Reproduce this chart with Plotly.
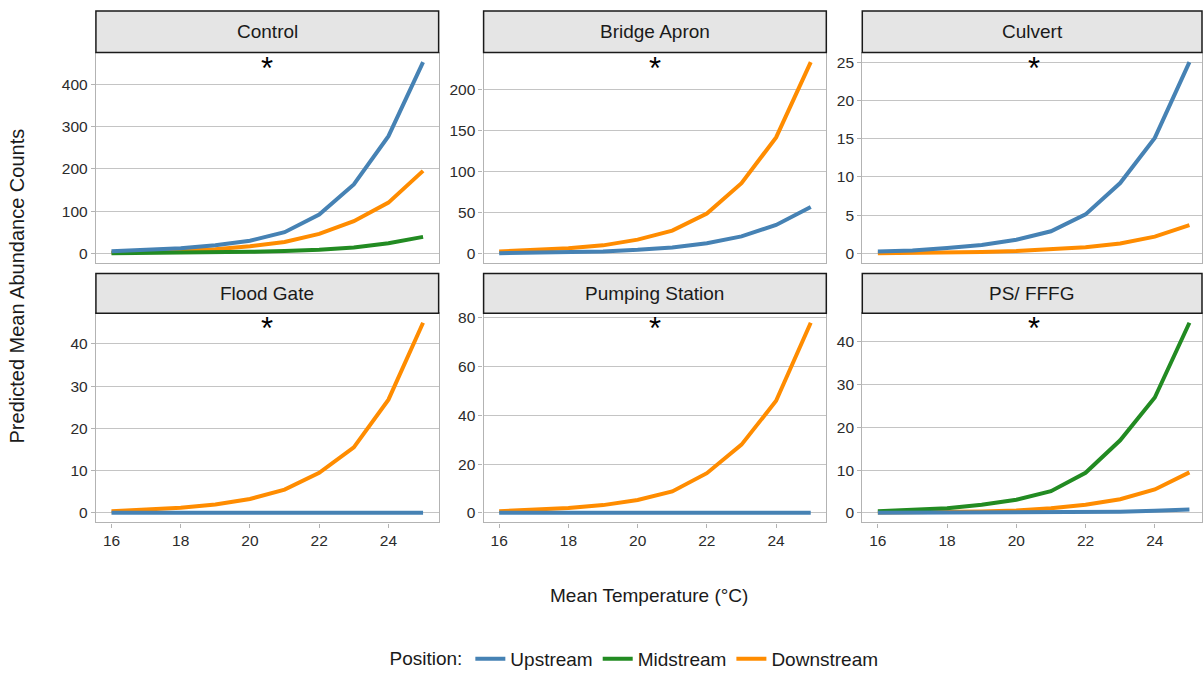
import plotly.graph_objects as go

# Mean temperature (°C) at which predictions were made
temps = [16, 17, 18, 19, 20, 21, 22, 23, 24, 25]

# Predicted mean abundance counts by structure type and position
control_up = [5, 8, 12, 19, 30, 50, 92, 163, 277, 452]
control_mid = [0.6, 1, 1.6, 2.6, 3.6, 5.5, 8.5, 14, 24, 39]
control_down = [2, 3.5, 6, 10, 17, 27, 46, 76, 120, 195]

bridge_up = [0.5, 1, 1.5, 2.5, 4.5, 7.5, 12.5, 21, 35, 57]
bridge_down = [2.5, 4, 6.5, 10, 17, 28, 49, 86, 142, 234]

culvert_up = [0.25, 0.4, 0.7, 1.1, 1.8, 2.9, 5.1, 9.2, 15.1, 25]
culvert_down = [0.04, 0.07, 0.12, 0.2, 0.33, 0.55, 0.8, 1.3, 2.2, 3.7]

flood_up = [0.01, 0.01, 0.01, 0.01, 0.01, 0.01, 0.01, 0.01, 0.01, 0.01]
flood_down = [0.4, 0.7, 1.2, 2.0, 3.3, 5.5, 9.5, 15.5, 26.8, 45]

pump_up = [0.02, 0.02, 0.02, 0.02, 0.02, 0.02, 0.02, 0.02, 0.02, 0.02]
pump_down = [0.7, 1.2, 2.0, 3.2, 5.3, 8.8, 16.3, 28, 46, 78]

psfffg_up = [0.02, 0.03, 0.04, 0.06, 0.09, 0.13, 0.2, 0.3, 0.5, 0.8]
psfffg_mid = [0.4, 0.7, 1.1, 1.9, 3.1, 5.1, 9.4, 17, 27, 44.5]
psfffg_down = [0.08, 0.12, 0.2, 0.35, 0.6, 1.1, 1.9, 3.2, 5.5, 9.5]

panel_titles = ["Control", "Bridge Apron", "Culvert",
                "Flood Gate", "Pumping Station", "PS/ FFFG"]
panel_series = [
    {"Upstream": control_up, "Midstream": control_mid, "Downstream": control_down},
    {"Upstream": bridge_up, "Downstream": bridge_down},
    {"Upstream": culvert_up, "Downstream": culvert_down},
    {"Upstream": flood_up, "Downstream": flood_down},
    {"Upstream": pump_up, "Downstream": pump_down},
    {"Upstream": psfffg_up, "Midstream": psfffg_mid, "Downstream": psfffg_down},
]
y_dticks = [100, 50, 5, 10, 20, 10]
x_ticks = [16, 18, 20, 22, 24]

colors = {"Upstream": "#4682B4", "Midstream": "#228B22", "Downstream": "#FF8C00"}
legend_rank = {"Upstream": 1, "Midstream": 2, "Downstream": 3}
draw_order = ["Downstream", "Midstream", "Upstream"]

W, H = 1203, 678
# panel pixel boxes: (left, right) for columns, (top, bottom) for rows
col_px = [(96, 439), (484, 827), (863, 1203)]
row_px = [(49, 261), (312, 523)]
strip_px = [(7, 49), (272, 312)]

FONT = "Liberation Sans, Arial, sans-serif"
TICK_COLOR = "#b3b3b3"
TICK_FONT = dict(family=FONT, size=15.5, color="#2b2b2b")

fig = go.Figure()
shown = set()
layout_axes = {}
annotations = []
shapes = []

for i, (title, series) in enumerate(zip(panel_titles, panel_series)):
    r, c = divmod(i, 3)
    n = i + 1
    xa = "x" if n == 1 else f"x{n}"
    ya = "y" if n == 1 else f"y{n}"

    for pos in draw_order:
        if pos not in series:
            continue
        vals = series[pos]
        fig.add_trace(go.Scatter(
            x=temps, y=vals, mode="lines", name=pos,
            line=dict(color=colors[pos], width=4),
            xaxis=xa, yaxis=ya, legendgroup=pos,
            legendrank=legend_rank[pos],
            showlegend=pos not in shown,
            hoverinfo="skip",
        ))
        shown.add(pos)

    # ggplot-style 5% expansion of the data ranges
    all_vals = [v for s in series.values() for v in s]
    lo, hi = min(all_vals), max(all_vals)
    span = hi - lo
    y_range = [lo - 0.05 * span, hi + 0.05 * span]
    xspan = temps[-1] - temps[0]
    x0 = temps[0] - 0.05 * xspan
    x1 = temps[-1] + 0.05 * xspan
    left, right = col_px[c]
    # keep the same px per degree in every column
    ppu = (col_px[0][1] - col_px[0][0]) / (x1 - x0)
    x1 = x0 + (right - left) / ppu

    top, bottom = row_px[r]
    xdom = [left / W, right / W]
    ydom = [1 - bottom / H, 1 - top / H]

    layout_axes["xaxis" if n == 1 else f"xaxis{n}"] = dict(
        domain=xdom, anchor=ya, range=[x0, x1],
        tickmode="array", tickvals=x_ticks,
        showticklabels=(r == 1), ticks="outside" if r == 1 else "",
        ticklen=4, tickwidth=1.2, tickcolor=TICK_COLOR,
        showgrid=False, zeroline=False,
        showline=True, mirror=True, linecolor=TICK_COLOR, linewidth=1.3,
        tickfont=TICK_FONT,
    )
    layout_axes["yaxis" if n == 1 else f"yaxis{n}"] = dict(
        domain=ydom, anchor=xa, range=y_range,
        tick0=0, dtick=y_dticks[i],
        ticks="outside", ticklen=4, tickwidth=1.2, tickcolor=TICK_COLOR,
        showgrid=True, gridcolor="#c4c4c4", gridwidth=1.4,
        zeroline=False,
        showline=True, mirror=True, linecolor=TICK_COLOR, linewidth=1.3,
        tickfont=TICK_FONT,
    )

    # facet strip
    s_top, s_bot = strip_px[r]
    shapes.append(dict(
        type="rect", xref="paper", yref="paper",
        x0=xdom[0], x1=xdom[1], y0=1 - s_bot / H, y1=1 - s_top / H,
        fillcolor="#e5e5e5", line=dict(color="#1a1a1a", width=1.5),
        layer="above",
    ))
    annotations.append(dict(
        text=title, xref="paper", yref="paper",
        x=(xdom[0] + xdom[1]) / 2, y=1 - (s_top + s_bot) / 2 / H,
        xanchor="center", yanchor="middle", showarrow=False,
        font=dict(family=FONT, size=19, color="#1a1a1a"),
    ))
    # significance marker
    annotations.append(dict(
        text="*", xref=xa, yref=f"{ya} domain", x=20.5, y=1,
        xanchor="center", yanchor="top", yshift=4, showarrow=False,
        font=dict(family=FONT, size=31, color="#000000"),
    ))

# shared axis titles
annotations.append(dict(
    text="Mean Temperature (°C)", xref="paper", yref="paper",
    x=650 / W, y=1 - 597 / H, xanchor="center", yanchor="middle",
    showarrow=False, font=dict(family=FONT, size=19, color="#1a1a1a"),
))
annotations.append(dict(
    text="Predicted Mean Abundance Counts", xref="paper", yref="paper",
    x=18 / W, y=1 - 284 / H, xanchor="center", yanchor="middle",
    textangle=-90, showarrow=False,
    font=dict(family=FONT, size=20, color="#1a1a1a"),
))

fig.update_layout(
    width=W, height=H,
    margin=dict(l=0, r=0, t=0, b=0),
    paper_bgcolor="white", plot_bgcolor="white",
    showlegend=True,
    legend=dict(
        orientation="h", x=636 / W, xanchor="center",
        y=1 - 661 / H, yanchor="middle",
        title=dict(text="Position:", font=dict(family=FONT, size=19, color="#1a1a1a")),
        font=dict(family=FONT, size=19, color="#1a1a1a"),
        itemwidth=30, traceorder="normal",
    ),
    annotations=annotations,
    shapes=shapes,
    **layout_axes,
)

fig.write_html("out.html")
